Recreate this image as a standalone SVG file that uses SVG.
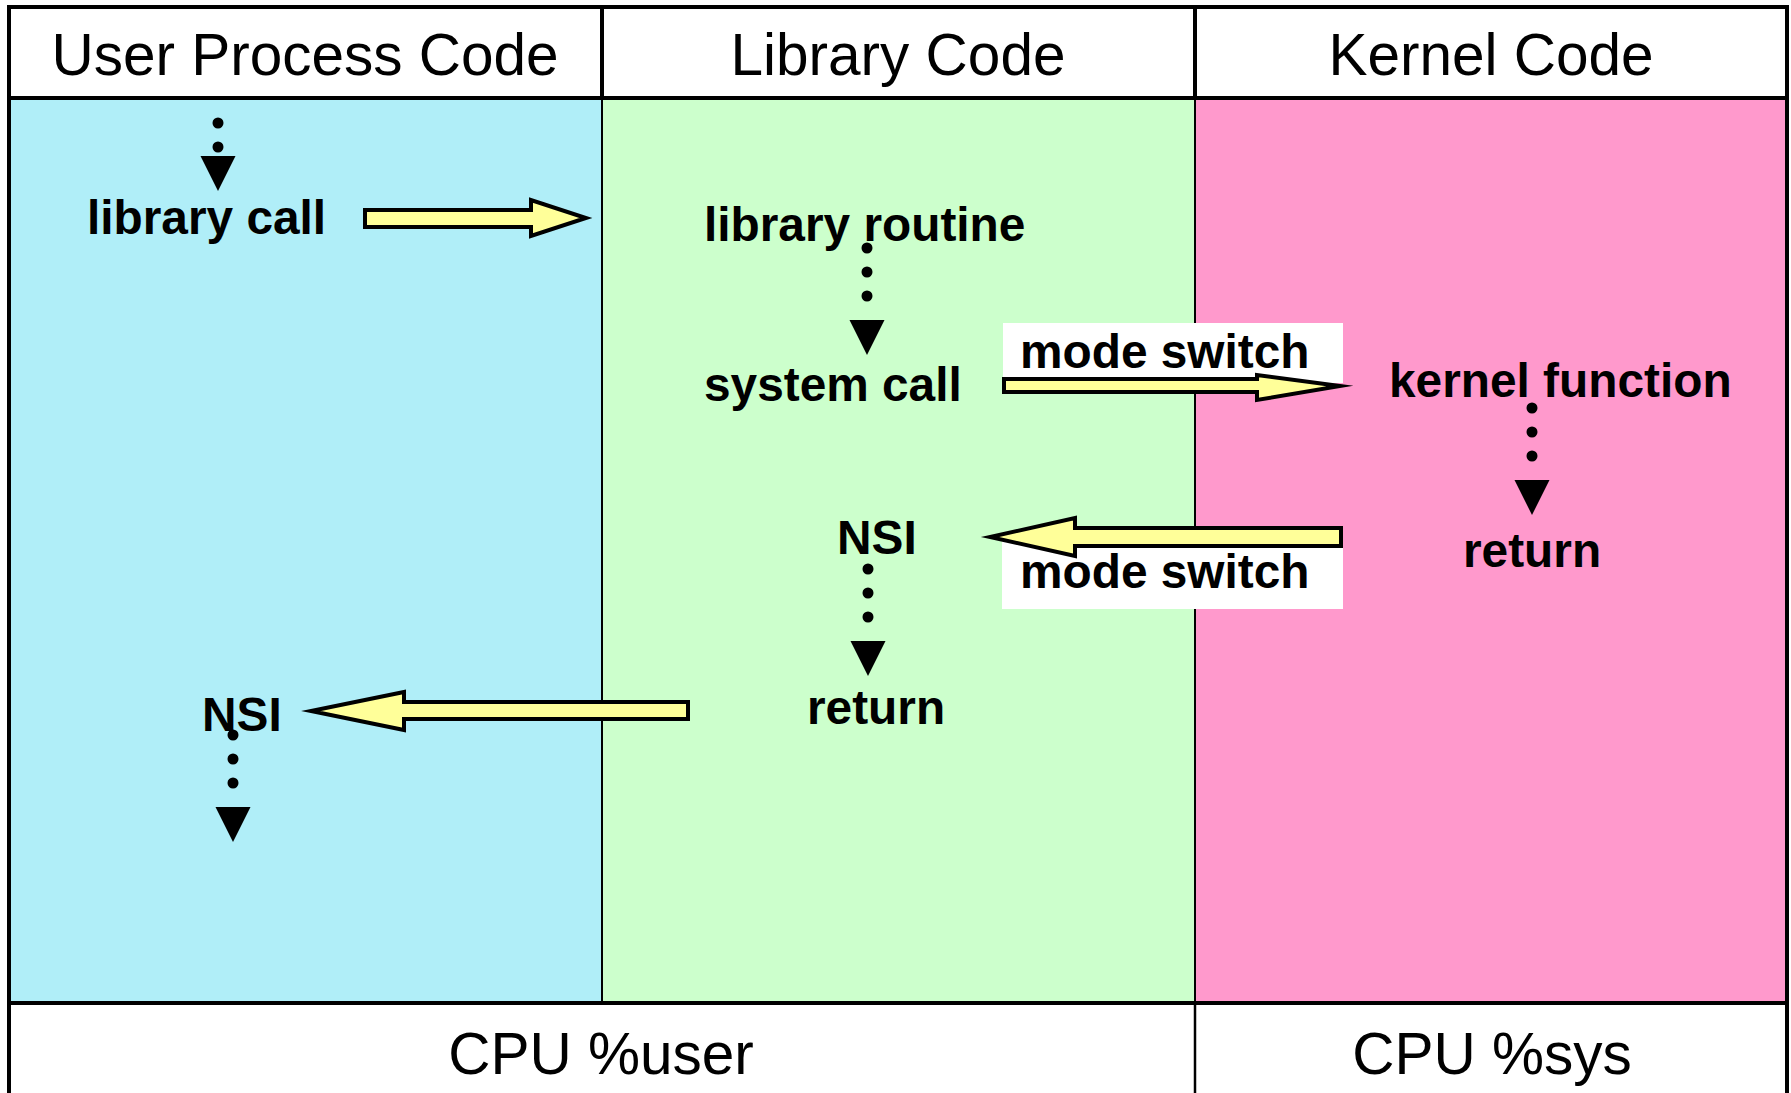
<svg xmlns="http://www.w3.org/2000/svg" width="1791" height="1093" viewBox="0 0 1791 1093">
  <style>
    .hdr { font-family: "Liberation Sans", Arial, sans-serif; font-size: 58.5px; text-anchor: middle; fill: #000; }
    .lbl { font-family: "Liberation Sans", Arial, sans-serif; font-size: 47.8px; font-weight: bold; fill: #000; }
    .flow { fill: #FFFF99; stroke: #000; stroke-width: 4; stroke-linejoin: miter; stroke-miterlimit: 10; }
    .dots { fill: none; stroke: #000; stroke-width: 11; stroke-linecap: round; stroke-dasharray: 0 24; }
    .grid { stroke: #000; fill: none; }
  </style>
  <defs>
    <path id="head" d="M-17.5,0 L17.5,0 L0,35 Z" fill="#000"/>
  </defs>

  <!-- lane backgrounds -->
  <g id="lanes">
    <rect x="9" y="7" width="1778" height="91" fill="#fff"/>
    <rect x="9" y="98" width="593" height="905" fill="#B0EEF8"/>
    <rect x="602" y="98" width="593" height="905" fill="#CCFFCC"/>
    <rect x="1195" y="98" width="592" height="905" fill="#FF99CC"/>
    <rect x="9" y="1003" width="1778" height="95" fill="#fff"/>
  </g>

  <!-- table rules -->
  <g id="rules" class="grid">
    <rect x="9" y="7" width="1778" height="1092" stroke-width="4"/>
    <line x1="9" y1="98" x2="1787" y2="98" stroke-width="4"/>
    <line x1="9" y1="1003" x2="1787" y2="1003" stroke-width="4"/>
    <line x1="602" y1="7" x2="602" y2="98" stroke-width="4"/>
    <line x1="1195" y1="7" x2="1195" y2="98" stroke-width="4"/>
    <line x1="602" y1="98" x2="602" y2="1003" stroke-width="2"/>
    <line x1="1195" y1="98" x2="1195" y2="1003" stroke-width="2"/>
    <line x1="1195" y1="1003" x2="1195" y2="1093" stroke-width="2.5"/>
  </g>

  <!-- column headings and footer -->
  <g id="header-user"><text class="hdr" x="305" y="75">User Process Code</text></g>
  <g id="header-library"><text class="hdr" x="898" y="75">Library Code</text></g>
  <g id="header-kernel"><text class="hdr" x="1491" y="75">Kernel Code</text></g>
  <g id="footer-user"><text class="hdr" x="601" y="1074">CPU %user</text></g>
  <g id="footer-sys"><text class="hdr" x="1492" y="1074">CPU %sys</text></g>

  <!-- label backings for the mode switch captions -->
  <g id="mode-switch-in">
    <rect x="1003" y="323" width="340" height="60" fill="#fff"/>
    <text class="lbl" x="1020" y="368">mode switch</text>
  </g>
  <g id="mode-switch-out">
    <rect x="1002" y="535" width="341" height="74" fill="#fff"/>
    <text class="lbl" x="1020" y="588">mode switch</text>
  </g>

  <!-- steps -->
  <g id="library-call"><text class="lbl" x="87" y="234">library call</text></g>
  <g id="library-routine"><text class="lbl" x="704" y="241">library routine</text></g>
  <g id="system-call"><text class="lbl" x="704" y="401">system call</text></g>
  <g id="kernel-function"><text class="lbl" x="1389" y="397">kernel function</text></g>
  <g id="kernel-return"><text class="lbl" x="1463" y="567">return</text></g>
  <g id="library-nsi"><text class="lbl" x="837" y="554">NSI</text></g>
  <g id="library-return"><text class="lbl" x="807" y="724">return</text></g>
  <g id="user-nsi"><text class="lbl" x="202" y="731">NSI</text></g>

  <!-- connectors -->
  <g id="connectors">
    <!-- control flow between lanes -->
    <polygon class="flow" points="365,210 531,210 531,200 586,218 531,236 531,227 365,227"/>
    <polygon class="flow" points="1004,379 1257,379 1257,375 1340,386 1257,400 1257,392 1004,392"/>
    <polygon class="flow" points="1341,528 1075,528 1075,518 990,537 1075,556 1075,546 1341,546"/>
    <polygon class="flow" points="688,702 404,702 404,692 311,711 404,730 404,719 688,719"/>

    <!-- sequential flow within a lane -->
    <line class="dots" x1="218" y1="123" x2="218" y2="150"/>
    <use href="#head" x="218" y="156"/>

    <line class="dots" x1="867" y1="248" x2="867" y2="320"/>
    <use href="#head" x="867" y="320"/>

    <line class="dots" x1="1532" y1="408" x2="1532" y2="480"/>
    <use href="#head" x="1532" y="480"/>

    <line class="dots" x1="868" y1="569" x2="868" y2="641"/>
    <use href="#head" x="868" y="641"/>

    <line class="dots" x1="233" y1="735" x2="233" y2="807"/>
    <use href="#head" x="233" y="807"/>
  </g>
</svg>
